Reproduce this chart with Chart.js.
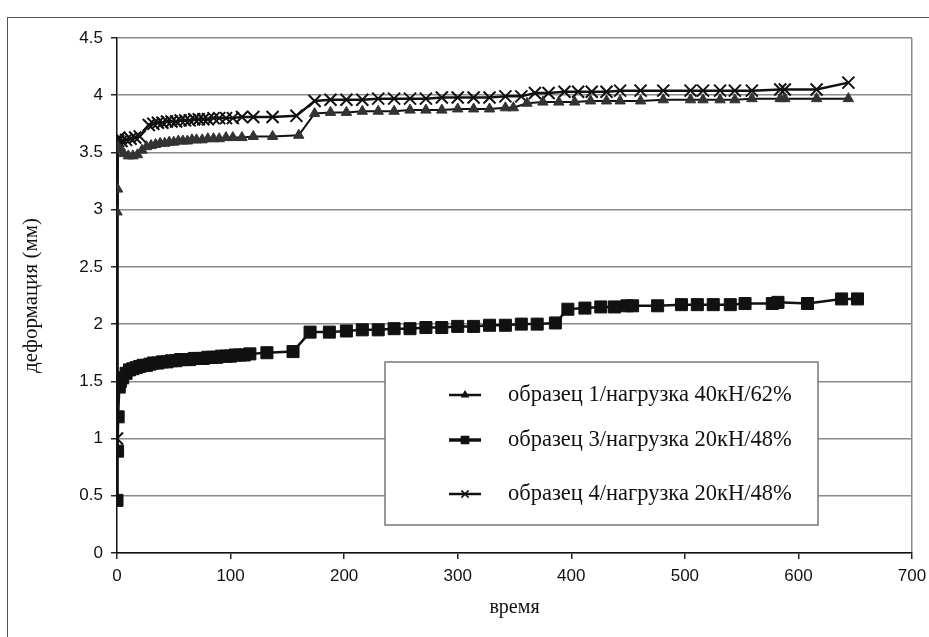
<!DOCTYPE html>
<html>
<head>
<meta charset="utf-8">
<script src="https://cdn.jsdelivr.net/npm/chart.js@4"></script>
<style>
  html, body { margin: 0; padding: 0; background: #fff; }
  #wrap { position: relative; width: 929px; height: 637px; overflow: hidden; }
  #frame { position: absolute; left: 7px; top: 17px; width: 1000px; height: 700px; border: 1px solid #555; }
  #c { position: absolute; left: 0; top: 0; }
</style>
</head>
<body>
<div id="wrap">
  <div id="frame"></div>
  <canvas id="c" width="929" height="637"></canvas>
</div>
<script>
// образец 1 (triangles)
const t1 = [0, 0.5, 1, 3, 6, 10, 14, 18, 22, 26, 30, 34, 38, 42, 46, 50, 54, 58, 62, 66, 70, 75, 80, 85, 90, 96, 102, 110, 120, 137, 160, 174, 188, 202, 216, 230, 244, 258, 272, 286, 300, 314, 328, 342, 349, 361, 375, 389, 403, 417, 431, 443, 461, 481, 505, 516, 531, 544, 559, 584, 588, 616, 644];
const v1 = [2.98, 3.18, 3.55, 3.52, 3.49, 3.47, 3.47, 3.48, 3.52, 3.55, 3.56, 3.57, 3.58, 3.58, 3.59, 3.59, 3.6, 3.6, 3.6, 3.61, 3.61, 3.61, 3.62, 3.62, 3.62, 3.63, 3.63, 3.63, 3.64, 3.64, 3.65, 3.84, 3.85, 3.85, 3.86, 3.86, 3.86, 3.87, 3.87, 3.87, 3.88, 3.88, 3.88, 3.89, 3.89, 3.93, 3.94, 3.94, 3.94, 3.95, 3.95, 3.95, 3.95, 3.96, 3.96, 3.96, 3.96, 3.96, 3.97, 3.97, 3.97, 3.97, 3.97];

// образец 3 (squares)
const t3 = [0, 0.5, 1, 2, 3, 5, 8, 11, 14, 17, 20, 23, 26, 29, 32, 36, 40, 44, 48, 52, 56, 60, 64, 68, 72, 76, 80, 84, 88, 92, 96, 100, 104, 108, 112, 117, 132, 155, 170, 187, 202, 216, 230, 244, 258, 272, 286, 300, 314, 328, 342, 356, 370, 386, 397, 412, 426, 438, 449, 454, 476, 497, 511, 525, 540, 553, 577, 582, 608, 638, 652];
const v3 = [0.46, 0.89, 1.19, 1.45, 1.5, 1.53, 1.57, 1.6, 1.61, 1.62, 1.63, 1.64, 1.64, 1.65, 1.66, 1.66, 1.67, 1.67, 1.68, 1.68, 1.69, 1.69, 1.69, 1.70, 1.70, 1.70, 1.71, 1.71, 1.71, 1.72, 1.72, 1.72, 1.73, 1.73, 1.73, 1.74, 1.75, 1.76, 1.93, 1.93, 1.94, 1.95, 1.95, 1.96, 1.96, 1.97, 1.97, 1.98, 1.98, 1.99, 1.99, 2.0, 2.0, 2.01, 2.13, 2.14, 2.15, 2.15, 2.16, 2.16, 2.16, 2.17, 2.17, 2.17, 2.17, 2.18, 2.18, 2.19, 2.18, 2.22, 2.22];

// образец 4 (crosses)
const t4 = [0, 0.5, 1, 2, 4, 8, 12, 16, 20, 28, 32, 36, 40, 44, 48, 52, 56, 60, 64, 68, 72, 76, 80, 85, 90, 96, 102, 110, 120, 137, 158, 174, 188, 202, 216, 230, 244, 258, 272, 286, 300, 314, 328, 342, 356, 368, 380, 394, 406, 418, 431, 443, 461, 481, 505, 516, 531, 544, 559, 584, 588, 616, 644];
const v4 = [1.0, 3.55, 3.6, 3.63, 3.6, 3.61, 3.62, 3.63, 3.64, 3.74, 3.75, 3.76, 3.76, 3.77, 3.77, 3.77, 3.78, 3.78, 3.78, 3.79, 3.79, 3.79, 3.79, 3.8, 3.8, 3.8, 3.8, 3.81, 3.81, 3.81, 3.82, 3.95, 3.96, 3.96, 3.96, 3.97, 3.97, 3.97, 3.97, 3.98, 3.98, 3.98, 3.98, 3.99, 3.99, 4.02, 4.02, 4.03, 4.03, 4.03, 4.03, 4.04, 4.04, 4.04, 4.04, 4.04, 4.04, 4.04, 4.04, 4.05, 4.05, 4.05, 4.11];

const labels = ['образец 1/нагрузка 40кН/62%', 'образец 3/нагрузка 20кН/48%', 'образец 4/нагрузка 20кН/48%'];
const xTicks = [0, 100, 200, 300, 400, 500, 600, 700];
const yTicks = [0, 0.5, 1, 1.5, 2, 2.5, 3, 3.5, 4, 4.5];

const pts = (xs, ys) => xs.map((x, i) => ({ x: x, y: ys[i] }));

// legend box drawn inside the plot
const boxLegend = {
  id: 'boxLegend',
  afterDraw(chart) {
    const ctx = chart.ctx;
    ctx.save();
    ctx.fillStyle = '#fff';
    ctx.fillRect(385, 362, 433, 163);
    ctx.strokeStyle = '#777';
    ctx.lineWidth = 1.5;
    ctx.strokeRect(385, 362, 433, 163);
    const rows = [395, 440, 494];
    chart.data.datasets.forEach((ds, i) => {
      const y = rows[i];
      ctx.strokeStyle = '#111';
      ctx.lineWidth = i === 1 ? 3.5 : 2.5;
      ctx.beginPath();
      ctx.moveTo(449, y);
      ctx.lineTo(481, y);
      ctx.stroke();
      ctx.fillStyle = '#111';
      ctx.lineWidth = 1.5;
      Chart.helpers.drawPoint(ctx, {
        pointStyle: ds.pointStyle,
        radius: ds.pointRadius * 0.6,
        borderWidth: 1.5
      }, 465, y);
      ctx.fillStyle = '#111';
      ctx.font = '22.5px "Liberation Serif"';
      ctx.textBaseline = 'middle';
      ctx.fillText(ds.label, 508, y);
    });
    ctx.restore();
  }
};

new Chart(document.getElementById('c'), {
  type: 'line',
  data: {
    datasets: [
      {
        label: labels[0],
        data: pts(t1, v1),
        borderColor: '#111',
        borderWidth: 2,
        pointStyle: 'triangle',
        pointRadius: 6,
        pointBackgroundColor: '#333',
        pointBorderColor: '#333',
        pointBorderWidth: 1
      },
      {
        label: labels[1],
        data: pts(t3, v3),
        borderColor: '#111',
        borderWidth: 2.5,
        pointStyle: 'rect',
        pointRadius: 8.5,
        pointBackgroundColor: '#111',
        pointBorderColor: '#111',
        pointBorderWidth: 1
      },
      {
        label: labels[2],
        data: pts(t4, v4),
        borderColor: '#111',
        borderWidth: 2.5,
        pointStyle: 'crossRot',
        pointRadius: 8.5,
        pointBackgroundColor: '#111',
        pointBorderColor: '#111',
        pointBorderWidth: 2
      }
    ]
  },
  options: {
    responsive: false,
    animation: false,
    layout: { padding: { top: 38, right: 17, left: 0, bottom: 0 } },
    plugins: {
      legend: { display: false },
      tooltip: { enabled: false }
    },
    scales: {
      x: {
        type: 'linear',
        min: 0,
        max: 700,
        afterFit: s => { s.height = 84; s.paddingLeft = 0; s.paddingRight = 0; },
        afterBuildTicks: s => { s.ticks = xTicks.map(v => ({ value: v })); },
        ticks: {
          font: { family: '"Liberation Sans"', size: 17 },
          color: '#111',
          padding: 7
        },
        grid: {
          color: c => c.tick && c.tick.value === 700 ? '#8a8a8a' : 'rgba(0,0,0,0)',
          tickColor: '#222',
          tickLength: 6,
          lineWidth: 1.5
        },
        border: { color: '#111', width: 1.5 },
        title: {
          display: true,
          text: 'время',
          font: { family: '"Liberation Serif"', size: 20 },
          color: '#111',
          padding: { top: 0, bottom: 17 }
        }
      },
      y: {
        min: 0,
        max: 4.5,
        afterFit: s => { s.width = 117; },
        afterBuildTicks: s => { s.ticks = yTicks.map(v => ({ value: v })); },
        ticks: {
          font: { family: '"Liberation Sans"', size: 17 },
          color: '#111',
          padding: 8,
          callback: v => String(v)
        },
        grid: {
          color: '#8a8a8a',
          tickColor: '#222',
          tickLength: 6,
          lineWidth: 1.5
        },
        border: { color: '#111', width: 1.5 },
        title: {
          display: true,
          text: 'деформация (мм)',
          font: { family: '"Liberation Serif"', size: 21 },
          color: '#111',
          padding: { top: 19, bottom: 0 }
        }
      }
    }
  },
  plugins: [boxLegend]
});
</script>
</body>
</html>
